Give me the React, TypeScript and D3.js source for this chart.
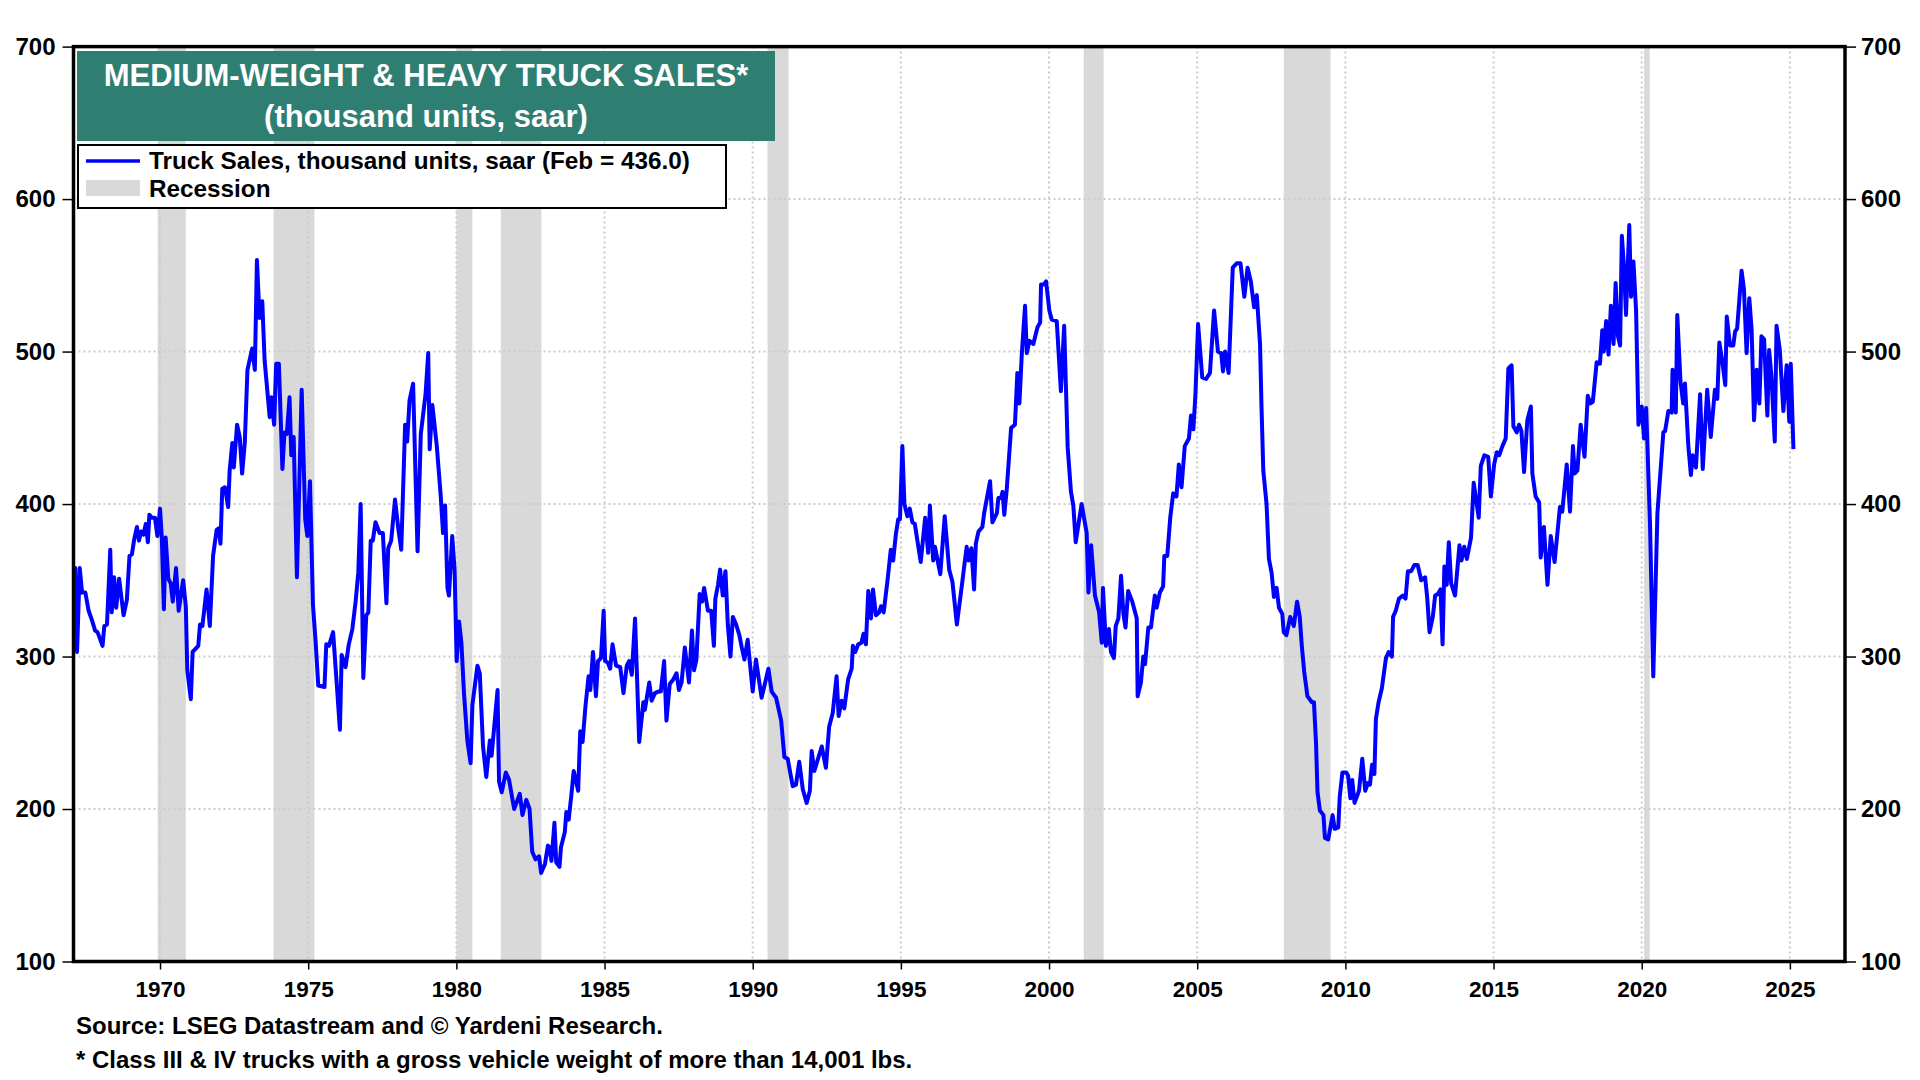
import React, { useEffect, useRef } from "react";
import * as d3 from "d3";

// truck sales, thousand units saar: [decimal year, value]
const sales1960s: [number, number][] = [
  [1967.1, 358], [1967.14, 358], [1967.2, 303], [1967.29, 358], [1967.37, 342], [1967.48, 342], [1967.59, 330],
  [1967.7, 324], [1967.81, 317], [1967.89, 316], [1968.06, 307], [1968.12, 320], [1968.21, 321], [1968.32, 370],
  [1968.37, 329], [1968.45, 352], [1968.52, 332], [1968.62, 351], [1968.77, 327], [1968.88, 337], [1968.97, 366],
  [1969.05, 367], [1969.13, 377], [1969.22, 385], [1969.29, 376], [1969.36, 382], [1969.44, 380], [1969.52, 387],
  [1969.59, 375], [1969.64, 393], [1969.72, 391], [1969.83, 391], [1969.91, 379],
];

const sales1970s: [number, number][] = [
  [1970.0, 397], [1970.06, 378], [1970.13, 331], [1970.19, 378], [1970.28, 351], [1970.36, 348], [1970.43, 336],
  [1970.54, 358], [1970.63, 330], [1970.78, 350], [1970.87, 333], [1970.92, 291], [1971.04, 272], [1971.1, 303],
  [1971.29, 307], [1971.35, 321], [1971.43, 320], [1971.57, 344], [1971.68, 320], [1971.79, 366], [1971.91, 383],
  [1971.98, 384], [1972.04, 374], [1972.1, 410], [1972.19, 411], [1972.3, 398], [1972.35, 422], [1972.44, 440],
  [1972.49, 424], [1972.6, 452], [1972.69, 444], [1972.77, 420], [1972.86, 440], [1972.95, 488], [1973.03, 495],
  [1973.11, 502], [1973.2, 488], [1973.27, 560], [1973.36, 522], [1973.45, 533], [1973.53, 494], [1973.59, 481],
  [1973.7, 457], [1973.76, 470], [1973.85, 452], [1973.92, 492], [1974.01, 492], [1974.13, 423], [1974.2, 447],
  [1974.28, 446], [1974.37, 470], [1974.43, 432], [1974.51, 444], [1974.62, 352], [1974.78, 475], [1974.9, 390],
  [1974.97, 379], [1975.06, 415], [1975.16, 334], [1975.25, 310], [1975.34, 281], [1975.55, 280], [1975.61, 308],
  [1975.7, 307], [1975.84, 316], [1975.96, 283], [1976.07, 252], [1976.13, 301], [1976.26, 293], [1976.37, 308],
  [1976.49, 318], [1976.6, 336], [1976.69, 355], [1976.77, 400], [1976.86, 286], [1976.96, 327], [1977.03, 329],
  [1977.11, 376], [1977.18, 376], [1977.27, 388], [1977.41, 381], [1977.52, 381], [1977.64, 335], [1977.7, 371],
  [1977.8, 376], [1977.93, 403], [1978.04, 384], [1978.14, 370], [1978.27, 452], [1978.34, 441], [1978.42, 468],
  [1978.54, 479], [1978.69, 369], [1978.8, 446], [1978.96, 472], [1979.05, 499], [1979.1, 436], [1979.19, 465],
  [1979.34, 438], [1979.47, 406], [1979.55, 381], [1979.62, 399], [1979.7, 345], [1979.75, 340], [1979.86, 379],
  [1979.94, 357],
];

const sales1980s: [number, number][] = [
  [1980.01, 297], [1980.09, 323], [1980.17, 309], [1980.26, 275], [1980.37, 245], [1980.48, 230], [1980.54, 268],
  [1980.71, 294], [1980.79, 289], [1980.9, 241], [1981.01, 221], [1981.13, 245], [1981.19, 235], [1981.31, 261],
  [1981.39, 278], [1981.44, 218], [1981.53, 211], [1981.67, 224], [1981.78, 219], [1981.95, 200], [1982.14, 210],
  [1982.23, 196], [1982.36, 206], [1982.47, 200], [1982.56, 172], [1982.67, 167], [1982.79, 169], [1982.86, 158],
  [1982.99, 164], [1983.09, 176], [1983.14, 175], [1983.21, 166], [1983.31, 191], [1983.37, 165], [1983.48, 162],
  [1983.53, 175], [1983.66, 185], [1983.71, 198], [1983.79, 193], [1983.88, 209], [1983.96, 225], [1984.11, 212],
  [1984.18, 251], [1984.26, 244], [1984.35, 266], [1984.46, 287], [1984.52, 278], [1984.61, 303], [1984.71, 274],
  [1984.78, 297], [1984.88, 299], [1984.97, 330], [1985.02, 297], [1985.11, 296], [1985.19, 292], [1985.27, 308],
  [1985.39, 294], [1985.53, 293], [1985.64, 276], [1985.75, 294], [1985.83, 297], [1985.92, 288], [1986.03, 325],
  [1986.17, 244], [1986.31, 270], [1986.36, 265], [1986.51, 283], [1986.59, 271], [1986.7, 276], [1986.81, 277],
  [1986.9, 277], [1987.01, 297], [1987.09, 258], [1987.2, 282], [1987.32, 285], [1987.43, 289], [1987.51, 278],
  [1987.6, 283], [1987.71, 306], [1987.85, 283], [1987.95, 317], [1988.02, 291], [1988.1, 298], [1988.21, 341],
  [1988.29, 336], [1988.36, 345], [1988.49, 330], [1988.6, 330], [1988.69, 307], [1988.74, 338], [1988.83, 347],
  [1988.9, 357], [1988.99, 340], [1989.08, 356], [1989.16, 321], [1989.25, 300], [1989.33, 326], [1989.44, 321],
  [1989.55, 314], [1989.63, 306], [1989.72, 298], [1989.83, 311],
];

const sales1990s: [number, number][] = [
  [1990.0, 277], [1990.11, 298], [1990.3, 273], [1990.53, 292], [1990.64, 277], [1990.79, 273], [1990.96, 258],
  [1991.07, 234], [1991.18, 233], [1991.35, 215], [1991.46, 216], [1991.57, 231], [1991.69, 213], [1991.82, 204],
  [1991.93, 212], [1991.99, 238], [1992.08, 225], [1992.33, 241], [1992.47, 227], [1992.58, 254], [1992.7, 263],
  [1992.83, 287], [1992.9, 261], [1993.0, 271], [1993.09, 266], [1993.22, 285], [1993.34, 292], [1993.38, 307],
  [1993.46, 303], [1993.56, 308], [1993.67, 309], [1993.74, 315], [1993.82, 308], [1993.9, 343], [1993.99, 325],
  [1994.06, 344], [1994.16, 327], [1994.27, 329], [1994.33, 333], [1994.42, 329], [1994.55, 350], [1994.66, 370],
  [1994.74, 363], [1994.83, 380], [1994.91, 390], [1994.97, 390], [1995.05, 438], [1995.12, 400], [1995.22, 392],
  [1995.3, 397], [1995.39, 388], [1995.47, 387], [1995.67, 362], [1995.82, 391], [1995.92, 368], [1995.98, 399],
  [1996.09, 363], [1996.15, 372], [1996.33, 354], [1996.48, 392], [1996.63, 357], [1996.74, 349], [1996.89, 321],
  [1997.08, 350], [1997.22, 372], [1997.28, 363], [1997.38, 371], [1997.47, 344], [1997.53, 374], [1997.62, 382],
  [1997.75, 385], [1997.81, 394], [1998.01, 415], [1998.09, 388], [1998.24, 394], [1998.29, 404], [1998.38, 404],
  [1998.43, 408], [1998.49, 393], [1998.57, 409], [1998.72, 450], [1998.85, 452], [1998.93, 486], [1999.0, 466],
  [1999.08, 498], [1999.19, 530], [1999.25, 499], [1999.34, 507], [1999.47, 505], [1999.61, 516], [1999.7, 519],
  [1999.73, 544], [1999.82, 544], [1999.9, 546],
];

const sales2000s: [number, number][] = [
  [2000.01, 527], [2000.09, 521], [2000.26, 520], [2000.4, 474], [2000.51, 517], [2000.63, 437], [2000.74, 408],
  [2000.82, 399], [2000.9, 375], [2001.1, 400], [2001.27, 381], [2001.33, 342], [2001.42, 373], [2001.55, 340],
  [2001.69, 329], [2001.78, 309], [2001.82, 345], [2001.92, 307], [2002.02, 318], [2002.09, 303], [2002.19, 299],
  [2002.25, 320], [2002.34, 325], [2002.43, 353], [2002.51, 328], [2002.58, 319], [2002.67, 343], [2002.81, 336],
  [2002.96, 325], [2002.99, 274], [2003.1, 283], [2003.18, 300], [2003.24, 295], [2003.35, 319], [2003.44, 319],
  [2003.57, 340], [2003.63, 332], [2003.74, 342], [2003.85, 346], [2003.89, 366], [2003.99, 366], [2004.09, 391],
  [2004.19, 407], [2004.3, 405], [2004.38, 426], [2004.47, 411], [2004.58, 438], [2004.72, 443], [2004.79, 458],
  [2004.87, 449], [2004.94, 472], [2005.03, 518], [2005.17, 483], [2005.3, 482], [2005.43, 486], [2005.57, 527],
  [2005.7, 500], [2005.81, 499], [2005.87, 487], [2005.94, 500], [2006.06, 486], [2006.2, 555], [2006.34, 558],
  [2006.46, 558], [2006.59, 536], [2006.7, 555], [2006.81, 546], [2006.92, 529], [2007.01, 537], [2007.12, 505],
  [2007.17, 464], [2007.23, 422], [2007.34, 400], [2007.42, 364], [2007.51, 355], [2007.59, 339], [2007.68, 345],
  [2007.76, 332], [2007.87, 328], [2007.92, 316], [2008.01, 314], [2008.14, 326], [2008.26, 320], [2008.37, 336],
  [2008.46, 326], [2008.53, 307], [2008.61, 290], [2008.72, 274], [2008.87, 270], [2008.94, 270], [2009.01, 243],
  [2009.06, 211], [2009.14, 199], [2009.26, 196], [2009.31, 181], [2009.42, 180], [2009.57, 196], [2009.64, 187],
  [2009.76, 188], [2009.81, 208], [2009.9, 224],
];

const sales2010s: [number, number][] = [
  [2010.03, 224], [2010.09, 222], [2010.17, 207], [2010.23, 219], [2010.31, 204], [2010.46, 212], [2010.57, 233],
  [2010.67, 212], [2010.76, 217], [2010.83, 216], [2010.9, 229], [2010.98, 223], [2011.03, 259], [2011.12, 270],
  [2011.23, 279], [2011.37, 299], [2011.46, 303], [2011.57, 300], [2011.61, 326], [2011.7, 330], [2011.81, 338],
  [2011.94, 340], [2012.03, 338], [2012.11, 356], [2012.22, 356], [2012.33, 360], [2012.44, 360], [2012.56, 350],
  [2012.69, 352], [2012.76, 339], [2012.84, 316], [2012.95, 326], [2013.03, 340], [2013.12, 341], [2013.21, 344],
  [2013.28, 308], [2013.34, 359], [2013.42, 347], [2013.49, 375], [2013.57, 348], [2013.7, 340], [2013.85, 373],
  [2013.92, 363], [2014.01, 372], [2014.1, 364], [2014.24, 378], [2014.33, 414], [2014.5, 391], [2014.57, 425],
  [2014.69, 432], [2014.82, 431], [2014.91, 405], [2015.02, 426], [2015.11, 434], [2015.19, 432], [2015.3, 438],
  [2015.41, 443], [2015.5, 489], [2015.61, 491], [2015.67, 451], [2015.78, 447], [2015.86, 452], [2015.94, 448],
  [2016.03, 421], [2016.14, 455], [2016.26, 464], [2016.31, 420], [2016.42, 405], [2016.54, 401], [2016.59, 365],
  [2016.7, 385], [2016.82, 347], [2016.93, 379], [2017.06, 362], [2017.24, 398], [2017.32, 395], [2017.47, 426],
  [2017.58, 395], [2017.68, 438], [2017.74, 420], [2017.83, 422], [2017.94, 452], [2018.07, 431], [2018.18, 471],
  [2018.27, 466], [2018.35, 467], [2018.48, 493], [2018.59, 492], [2018.67, 514], [2018.72, 500], [2018.8, 520],
  [2018.88, 498], [2018.96, 530], [2019.05, 505], [2019.12, 545], [2019.2, 510], [2019.27, 504], [2019.33, 576],
  [2019.4, 556], [2019.47, 524], [2019.58, 583], [2019.64, 536], [2019.72, 559], [2019.81, 527], [2019.89, 452],
];

const sales2020s: [number, number][] = [
  [2020.0, 464], [2020.08, 443], [2020.15, 463], [2020.28, 387], [2020.39, 287], [2020.53, 394], [2020.73, 447],
  [2020.79, 448], [2020.9, 461], [2021.01, 460], [2021.04, 488], [2021.15, 460], [2021.2, 524], [2021.31, 480],
  [2021.4, 466], [2021.46, 479], [2021.57, 439], [2021.66, 419], [2021.72, 432], [2021.83, 424], [2021.97, 472],
  [2022.06, 423], [2022.21, 475], [2022.33, 444], [2022.47, 475], [2022.55, 469], [2022.62, 506], [2022.73, 492],
  [2022.82, 478], [2022.87, 523], [2022.98, 504], [2023.09, 504], [2023.15, 513], [2023.22, 515], [2023.37, 553],
  [2023.45, 541], [2023.54, 499], [2023.63, 535], [2023.71, 514], [2023.79, 455], [2023.88, 488], [2023.97, 466],
  [2024.04, 510], [2024.13, 508], [2024.24, 458], [2024.3, 501], [2024.38, 483], [2024.49, 441], [2024.55, 517],
  [2024.66, 501], [2024.78, 461], [2024.89, 491], [2024.98, 454], [2025.03, 492], [2025.12, 436],
];

const recessions: [number, number][] = [
  [1969.92, 1970.87], [1973.83, 1975.21], [1980.0, 1980.54], [1981.5, 1982.87],
  [1990.5, 1991.21], [2001.17, 2001.84], [2007.92, 2009.5], [2020.08, 2020.27],
];

const yTicks = [100, 200, 300, 400, 500, 600, 700];
const xTicks = [1970, 1975, 1980, 1985, 1990, 1995, 2000, 2005, 2010, 2015, 2020, 2025];
const titleLines = ["MEDIUM-WEIGHT & HEAVY TRUCK SALES*", "(thousand units, saar)"];
const legendLabels = ["Truck Sales, thousand units, saar (Feb = 436.0)", "Recession"];
const footnotes = [
  "Source: LSEG Datastream and © Yardeni Research.",
  "* Class III & IV trucks with a gross vehicle weight of more than 14,001 lbs.",
];

const FONT = "'Liberation Sans', Arial, sans-serif";

export default function App() {
  const svgRef = useRef<SVGSVGElement | null>(null);

  useEffect(() => {
    const width = 1920;
    const height = 1080;
    const left = 73.5, right = 1845, top = 46.6, bottom = 961.5;

    const svg = d3.select(svgRef.current);
    svg.selectAll("*").remove();
    svg.attr("width", width).attr("height", height).style("font-family", FONT);

    svg.append("rect").attr("width", width).attr("height", height).attr("fill", "#fff");

    const x = d3.scaleLinear().domain([1967.08, 2026.86]).range([left, right]);
    const y = d3.scaleLinear().domain([100, 700]).range([bottom, top]);

    svg.append("defs").append("clipPath").attr("id", "plot-clip")
      .append("rect").attr("x", left).attr("y", top).attr("width", right - left).attr("height", bottom - top);

    const plot = svg.append("g").attr("clip-path", "url(#plot-clip)");

    // recession shading
    plot.selectAll("rect.rec")
      .data(recessions)
      .join("rect")
      .attr("class", "rec")
      .attr("x", (d) => x(d[0]))
      .attr("width", (d) => x(d[1]) - x(d[0]))
      .attr("y", top)
      .attr("height", bottom - top)
      .attr("fill", "#d9d9d9");

    // grid
    plot.selectAll("line.vgrid")
      .data(xTicks)
      .join("line")
      .attr("x1", (d) => x(d)).attr("x2", (d) => x(d))
      .attr("y1", top).attr("y2", bottom)
      .attr("stroke", "#cccccc").attr("stroke-width", 2).attr("stroke-dasharray", "2,3");

    plot.selectAll("line.hgrid")
      .data(yTicks.slice(1, -1))
      .join("line")
      .attr("x1", left).attr("x2", right)
      .attr("y1", (d) => y(d)).attr("y2", (d) => y(d))
      .attr("stroke", "#cccccc").attr("stroke-width", 2).attr("stroke-dasharray", "2,3");

    const series = [...sales1960s, ...sales1970s, ...sales1980s, ...sales1990s, ...sales2000s, ...sales2010s, ...sales2020s];
    const line = d3.line<[number, number]>().x((d) => x(d[0])).y((d) => y(d[1]));

    plot.append("path")
      .datum(series)
      .attr("d", line)
      .attr("fill", "none")
      .attr("stroke", "#0000ff")
      .attr("stroke-width", 4)
      .attr("stroke-linejoin", "round");

    // axes
    const styleAxis = (g: d3.Selection<SVGGElement, unknown, null, undefined>, size: number) => {
      g.select(".domain").remove();
      g.selectAll(".tick line").attr("stroke", "#000").attr("stroke-width", 1.5);
      g.selectAll(".tick text").attr("fill", "#000").style("font-family", FONT)
        .style("font-weight", "bold").style("font-size", `${size}px`);
    };

    svg.append("g").attr("transform", `translate(${left},0)`)
      .call(d3.axisLeft(y).tickValues(yTicks).tickSize(11).tickPadding(7).tickFormat(d3.format("d")))
      .call((g) => styleAxis(g, 24));

    svg.append("g").attr("transform", `translate(${right},0)`)
      .call(d3.axisRight(y).tickValues(yTicks).tickSize(11).tickPadding(5).tickFormat(d3.format("d")))
      .call((g) => styleAxis(g, 24));

    svg.append("g").attr("transform", `translate(0,${bottom})`)
      .call(d3.axisBottom(x).tickValues(xTicks).tickSize(8).tickPadding(12).tickFormat(d3.format("d")))
      .call((g) => styleAxis(g, 22.5));

    // frame
    svg.append("rect")
      .attr("x", left).attr("y", top)
      .attr("width", right - left).attr("height", bottom - top)
      .attr("fill", "none").attr("stroke", "#000").attr("stroke-width", 3.5);

    // title
    svg.append("rect").attr("x", 77).attr("y", 51).attr("width", 698).attr("height", 90).attr("fill", "#2f7e72");
    svg.selectAll("text.title")
      .data(titleLines)
      .join("text")
      .attr("class", "title")
      .attr("x", 426)
      .attr("y", (_, i) => (i === 0 ? 86 : 127))
      .attr("text-anchor", "middle")
      .attr("fill", "#fff")
      .style("font-weight", "bold")
      .style("font-size", "31px")
      .text((d) => d);

    // legend
    svg.append("rect").attr("x", 78).attr("y", 145).attr("width", 648).attr("height", 63)
      .attr("fill", "#fff").attr("stroke", "#000").attr("stroke-width", 2);
    svg.append("line").attr("x1", 86).attr("x2", 140).attr("y1", 161).attr("y2", 161)
      .attr("stroke", "#0000ff").attr("stroke-width", 3.5);
    svg.append("rect").attr("x", 86).attr("y", 180).attr("width", 54).attr("height", 16).attr("fill", "#d9d9d9");
    svg.selectAll("text.legend")
      .data(legendLabels)
      .join("text")
      .attr("class", "legend")
      .attr("x", 149)
      .attr("y", (_, i) => 169 + i * 28)
      .attr("fill", "#000")
      .style("font-weight", "bold")
      .style("font-size", "24.3px")
      .text((d) => d);

    // footnotes
    svg.selectAll("text.foot")
      .data(footnotes)
      .join("text")
      .attr("class", "foot")
      .attr("x", 76)
      .attr("y", (_, i) => 1034 + i * 34)
      .attr("fill", "#000")
      .style("font-weight", "bold")
      .style("font-size", "24px")
      .text((d) => d);
  }, []);

  return (
    <div style={{ position: "absolute", left: 0, top: 0 }}>
      <svg ref={svgRef}></svg>
    </div>
  );
}
